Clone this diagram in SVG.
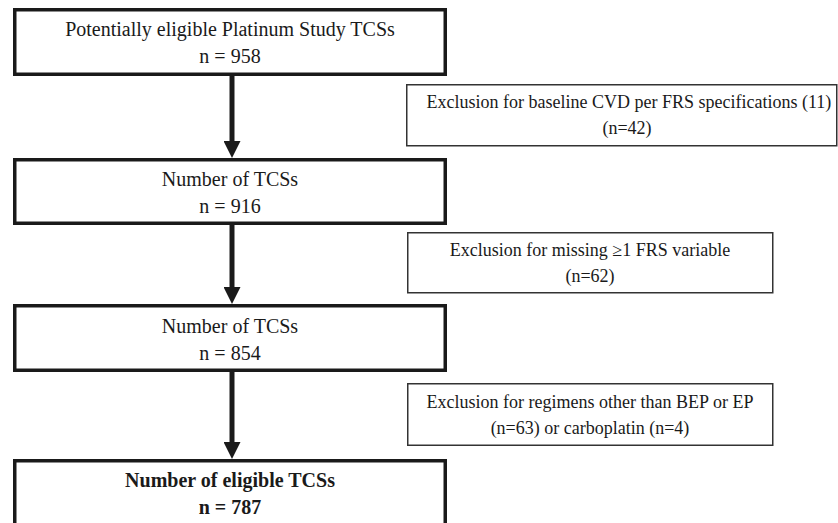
<svg xmlns="http://www.w3.org/2000/svg" width="838" height="523" viewBox="0 0 838 523">
<style>
.main{fill:#fff;stroke:#1a1a1a;stroke-width:3.5}
.excl{fill:#fff;stroke:#333;stroke-width:1.5}
.t{font-family:"Liberation Serif","Times New Roman",serif;fill:#1a1a1a;text-anchor:middle}
.tm{font-size:20px}
.te{font-size:18px}
.b{font-weight:bold}
.conn{stroke:#1a1a1a;stroke-width:5;fill:none}
</style>
<defs>
<marker id="ah" markerUnits="userSpaceOnUse" markerWidth="17" markerHeight="17" refX="0" refY="8.5" orient="auto">
<path d="M0,0 L17,8.5 L0,17 z" fill="#1a1a1a"/>
</marker>
</defs>
<rect width="838" height="523" fill="#fff"/>
<g id="connectors">
<line class="conn" x1="232" y1="76" x2="232" y2="141" marker-end="url(#ah)"/>
<line class="conn" x1="232" y1="225" x2="232" y2="287" marker-end="url(#ah)"/>
<line class="conn" x1="232" y1="372" x2="232" y2="442" marker-end="url(#ah)"/>
</g>
<g id="box1">
<rect class="main" x="14.75" y="9.75" width="430.5" height="64.5"/>
<text class="t tm" x="230" y="36">Potentially eligible Platinum Study TCSs</text>
<text class="t tm" x="230" y="63">n = 958</text>
</g>
<g id="excl1">
<rect class="excl" x="406.75" y="84.75" width="430" height="61"/>
<text class="t te" x="629" y="108">Exclusion for baseline CVD per FRS specifications (11)</text>
<text class="t te" x="627" y="134">(n=42)</text>
</g>
<g id="box2">
<rect class="main" x="14.75" y="159.75" width="430.5" height="63.5"/>
<text class="t tm" x="230" y="186">Number of TCSs</text>
<text class="t tm" x="230" y="213">n = 916</text>
</g>
<g id="excl2">
<rect class="excl" x="407.75" y="232.75" width="365" height="60"/>
<text class="t te" x="590" y="256">Exclusion for missing ≥1 FRS variable</text>
<text class="t te" x="590" y="282">(n=62)</text>
</g>
<g id="box3">
<rect class="main" x="14.75" y="305.75" width="430.5" height="64.5"/>
<text class="t tm" x="230" y="333">Number of TCSs</text>
<text class="t tm" x="230" y="360">n = 854</text>
</g>
<g id="excl3">
<rect class="excl" x="407.75" y="383.75" width="365" height="61.5"/>
<text class="t te" x="590" y="408">Exclusion for regimens other than BEP or EP</text>
<text class="t te" x="590" y="434">(n=63) or carboplatin (n=4)</text>
</g>
<g id="box4">
<rect class="main" x="14.75" y="460.75" width="430.5" height="80"/>
<text class="t tm b" x="230" y="487">Number of eligible TCSs</text>
<text class="t tm b" x="230" y="514">n = 787</text>
</g>
</svg>
